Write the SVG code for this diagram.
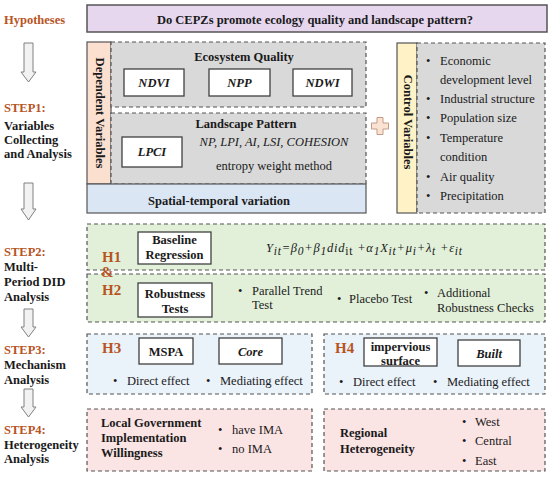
<svg xmlns="http://www.w3.org/2000/svg" width="550" height="477" viewBox="0 0 550 477">
<style>
text{font-family:"Liberation Serif","Times New Roman",serif;font-size:12.5px;fill:#1a1a1a}
.b{font-weight:bold}
.i{font-style:italic}
.o{fill:#b8541f}
.h{font-size:15px;font-weight:bold;fill:#b8541f}
.c{text-anchor:middle}
.box{fill:#fff;stroke:#404040;stroke-width:1.3}
.dash{stroke:#555;stroke-width:1.2;stroke-dasharray:4 3}
.solid{stroke:#555;stroke-width:1.2}
.arr{fill:#f2f2f2;stroke:#808080;stroke-width:1}
.sub{font-size:11.5px}
</style>
<defs>
<marker id="ah" markerWidth="6" markerHeight="6" refX="5" refY="3" orient="auto" markerUnits="userSpaceOnUse">
<path d="M0,0.5 L5,3 L0,5.5 Z" fill="#222"/>
</marker>
</defs>
<rect width="550" height="477" fill="#fff"/>

<g id="left-labels">
<text x="4" y="24" class="b o" font-size="13">Hypotheses</text>
<text x="4" y="112" class="b o" font-size="13">STEP1:</text>
<text x="4" y="130" class="b" font-size="13">Variables</text>
<text x="4" y="144" class="b" font-size="13">Collecting</text>
<text x="4" y="158" class="b" font-size="13">and Analysis</text>
<text x="4" y="256" class="b o" font-size="13">STEP2:</text>
<text x="4" y="271" class="b" font-size="13">Multi-</text>
<text x="4" y="286" class="b" font-size="13">Period DID</text>
<text x="4" y="301" class="b" font-size="13">Analysis</text>
<text x="4" y="354" class="b o" font-size="13">STEP3:</text>
<text x="4" y="369" class="b" font-size="13">Mechanism</text>
<text x="4" y="384" class="b" font-size="13">Analysis</text>
<text x="4" y="434" class="b o" font-size="13">STEP4:</text>
<text x="4" y="449" class="b" font-size="13">Heterogeneity</text>
<text x="4" y="463" class="b" font-size="13">Analysis</text>
</g>

<g id="connectors">
<path class="arr" d="M24,43 H33 V72 H36 L28.5,82 L21,72 H24 Z"/>
<path class="arr" d="M24,183 H33 V209 H36 L28.5,220 L21,209 H24 Z"/>
<path class="arr" d="M24,309 H33 V327 H36 L28.5,337 L21,327 H24 Z"/>
<path class="arr" d="M24,389 H33 V407 H36 L28.5,417 L21,407 H24 Z"/>
<line x1="276" y1="147" x2="276" y2="159" stroke="#333" stroke-width="1" marker-end="url(#ah)"/>
<line x1="193" y1="351" x2="219" y2="351" stroke="#888" stroke-width="1" marker-end="url(#ah)"/>
<line x1="437" y1="352" x2="458" y2="352" stroke="#888" stroke-width="1" marker-end="url(#ah)"/>
</g>

<g id="hypothesis">
<rect x="87" y="5" width="460" height="27" fill="#e6d7ef" stroke="#555" stroke-width="1.5"/>
<text x="315" y="24" class="b c">Do CEPZs promote ecology quality and landscape pattern?</text>
</g>

<g id="dependent-variables">
<rect x="87" y="42" width="24" height="142" fill="#fbdfcf" class="solid"/>
<text class="b c" font-size="10.5" transform="translate(99 113) rotate(90)" y="3.5">Dependent Variables</text>
</g>

<g id="ecosystem-quality">
<rect x="111" y="42" width="255" height="65" fill="#d9d9d9" class="dash"/>
<text x="244" y="61" class="b c">Ecosystem Quality</text>
<rect class="box" x="124" y="69" width="60" height="27"/>
<text x="154" y="87" class="b i c">NDVI</text>
<rect class="box" x="209" y="69" width="61" height="27"/>
<text x="239.5" y="87" class="b i c">NPP</text>
<rect class="box" x="293" y="69" width="59" height="27"/>
<text x="322.5" y="87" class="b i c">NDWI</text>
</g>

<g id="landscape-pattern">
<rect x="111" y="113" width="255" height="71" fill="#d9d9d9" class="dash"/>
<text x="246" y="128" class="b c">Landscape Pattern</text>
<rect class="box" x="122" y="137" width="60" height="30"/>
<text x="152" y="156" class="b i c">LPCI</text>
<text x="274" y="146" class="i c">NP, LPI, AI, LSI, COHESION</text>
<text x="274" y="170" class="c">entropy weight method</text>
</g>

<g id="spatial-temporal">
<rect x="87" y="184" width="279" height="29" fill="#dae6f4" class="solid"/>
<text x="219" y="205" class="b c" font-size="14">Spatial-temporal variation</text>
</g>

<g id="plus">
<path d="M377,117.5 h6 v5.5 h5.5 v6 h-5.5 v5.5 h-6 v-5.5 h-5.5 v-6 h5.5 z" fill="#fbe3d4" stroke="#c49a85" stroke-width="1"/>
</g>

<g id="control-variables">
<rect x="397" y="43" width="20" height="170" fill="#fff2c6" class="solid"/>
<text class="b c" font-size="10.5" transform="translate(407 122) rotate(90)" y="3.5">Control Variables</text>
<rect x="417" y="43" width="128" height="170" fill="#d9d9d9" class="dash"/>
<text x="426" y="65">•</text><text x="440" y="65">Economic</text>
<text x="440" y="84">development level</text>
<text x="426" y="103">•</text><text x="440" y="103">Industrial structure</text>
<text x="426" y="122">•</text><text x="440" y="122">Population size</text>
<text x="426" y="142">•</text><text x="440" y="142">Temperature</text>
<text x="440" y="161">condition</text>
<text x="426" y="181">•</text><text x="440" y="181">Air quality</text>
<text x="426" y="200">•</text><text x="440" y="200">Precipitation</text>
</g>

<g id="baseline-regression">
<rect x="87" y="224" width="458" height="46" fill="#e2f0d9" class="dash"/>
<text x="102" y="262" class="h">H1</text>
<rect class="box" x="138" y="232" width="73" height="32"/>
<text x="174.5" y="244" class="b c">Baseline</text>
<text x="174.5" y="259" class="b c">Regression</text>
<text x="266" y="252" class="i" font-size="16" textLength="196" lengthAdjust="spacing">Y<tspan class="sub" dy="3">it</tspan><tspan dy="-3">=β</tspan><tspan class="sub" dy="3">0</tspan><tspan dy="-3">+β</tspan><tspan class="sub" dy="3">1</tspan><tspan dy="-3">did</tspan><tspan class="sub" dy="3" font-style="normal" font-size="9">it</tspan><tspan dy="-3"> +α</tspan><tspan class="sub" dy="3">1</tspan><tspan dy="-3">X</tspan><tspan class="sub" dy="3">it</tspan><tspan dy="-3">+μ</tspan><tspan class="sub" dy="3">i</tspan><tspan dy="-3">+λ</tspan><tspan class="sub" dy="3">t</tspan><tspan dy="-3"> +ε</tspan><tspan class="sub" dy="3">it</tspan></text>
</g>

<g id="robustness-tests">
<rect x="87" y="274" width="458" height="48" fill="#e2f0d9" class="dash"/>
<text x="101" y="277" class="h">&amp;</text>
<text x="102" y="295" class="h">H2</text>
<rect class="box" x="138" y="283" width="74" height="34"/>
<text x="175" y="297.5" class="b c">Robustness</text>
<text x="175" y="313" class="b c">Tests</text>
<text x="238" y="295">•</text><text x="252" y="295">Parallel Trend</text>
<text x="252" y="309">Test</text>
<text x="337" y="303">•</text><text x="349" y="303">Placebo Test</text>
<text x="424" y="297">•</text><text x="437" y="297">Additional</text>
<text x="437" y="312">Robustness Checks</text>
</g>

<g id="mechanism-h3">
<rect x="87" y="334" width="225" height="60" fill="#eaf2fa" class="dash"/>
<text x="102" y="353" class="h">H3</text>
<rect class="box" x="139" y="338" width="54" height="26"/>
<text x="166" y="355.5" class="b c">MSPA</text>
<rect class="box" x="219" y="338" width="63" height="26"/>
<text x="250.5" y="355.5" class="b i c">Core</text>
<text x="113" y="385">•</text><text x="127" y="385">Direct effect</text>
<text x="206" y="385">•</text><text x="220" y="385">Mediating effect</text>
</g>

<g id="mechanism-h4">
<rect x="324" y="334" width="221" height="60" fill="#eaf2fa" class="dash"/>
<text x="335" y="353" class="h">H4</text>
<rect class="box" x="364" y="338" width="73" height="28"/>
<text x="400.5" y="351" class="b c">impervious</text>
<text x="400.5" y="365" class="b c">surface</text>
<rect class="box" x="458" y="340" width="62" height="26"/>
<text x="489" y="357.5" class="b i c">Built</text>
<text x="339" y="386">•</text><text x="353" y="386">Direct effect</text>
<text x="433" y="386">•</text><text x="447" y="386">Mediating effect</text>
</g>

<g id="heterogeneity-government">
<rect x="87" y="409" width="225" height="62" fill="#fbe4e4" class="dash"/>
<text x="101" y="427" class="b">Local Government</text>
<text x="101" y="442" class="b">Implementation</text>
<text x="101" y="457" class="b">Willingness</text>
<text x="218" y="434">•</text><text x="232" y="434">have IMA</text>
<text x="218" y="453">•</text><text x="232" y="453">no IMA</text>
</g>

<g id="heterogeneity-regional">
<rect x="324" y="409" width="221" height="62" fill="#fbe4e4" class="dash"/>
<text x="340" y="437" class="b">Regional</text>
<text x="340" y="453" class="b">Heterogeneity</text>
<text x="462" y="426">•</text><text x="475" y="426">West</text>
<text x="462" y="445">•</text><text x="475" y="445">Central</text>
<text x="462" y="465">•</text><text x="475" y="465">East</text>
</g>
</svg>
